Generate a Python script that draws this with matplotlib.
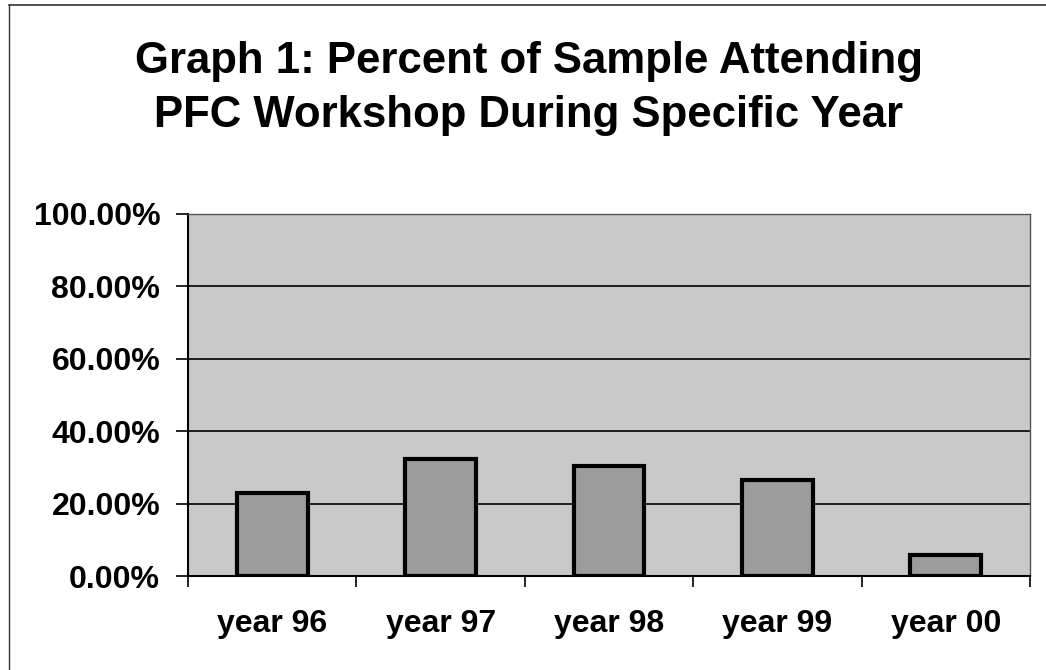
import matplotlib
matplotlib.use("Agg")
import matplotlib.pyplot as plt
from matplotlib.lines import Line2D
from matplotlib.ticker import FuncFormatter, MultipleLocator

years = ["year 96", "year 97", "year 98", "year 99", "year 00"]
percent_attending = [0.23, 0.324, 0.304, 0.266, 0.058]

title_lines = ["Graph 1: Percent of Sample Attending", "PFC Workshop During Specific Year"]

plt.rcParams["font.family"] = ["Liberation Sans", "DejaVu Sans"]
plt.rcParams["font.weight"] = "bold"

W, H = 1046, 670
fig = plt.figure(figsize=(W / 100, H / 100), dpi=100)
ax = fig.add_axes([188 / W, 1 - 576 / H, (1030 - 188) / W, (576 - 214) / H])

# scanned frame: only the top and left edges are visible
fig.add_artist(Line2D([9 / W, 1.0], [1 - 5 / H, 1 - 5 / H], transform=fig.transFigure,
                      color="#333333", linewidth=1.2))
fig.add_artist(Line2D([9 / W, 9 / W], [0.0, 1 - 5 / H], transform=fig.transFigure,
                      color="#333333", linewidth=1.0))

x = list(range(len(years)))
ax.bar(x, percent_attending, width=0.42, color="#9c9c9c", edgecolor="black", linewidth=3, zorder=3)

ax.set_facecolor("#c9c9c9")
ax.set_xlim(-0.5, len(years) - 0.5)
ax.set_ylim(0, 1.0)
ax.yaxis.set_major_locator(MultipleLocator(0.2))
ax.yaxis.set_major_formatter(FuncFormatter(lambda v, _: f"{v * 100:.2f}%"))
ax.grid(axis="y", color="black", linewidth=1.2, zorder=1)

ax.set_xticks([i - 0.5 for i in range(len(years) + 1)], minor=False)
ax.set_xticklabels([])
ax.set_xticks(x, minor=True)
ax.set_xticklabels(years, minor=True)
ax.tick_params(axis="x", which="major", length=8, width=1.2, direction="out")
ax.tick_params(axis="x", which="minor", length=0, pad=24, labelsize=23)
ax.tick_params(axis="y", length=9, width=1.2, direction="out", labelsize=23, pad=11)

for side in ["left", "bottom"]:
    ax.spines[side].set_linewidth(1.5)
for side in ["top", "right"]:
    ax.spines[side].set_linewidth(1.0)
    ax.spines[side].set_color("#555555")

fig.text(529 / W, 1 - 73 / H, title_lines[0], ha="center", va="baseline",
         fontsize=31.5, fontweight="bold")
fig.text(528 / W, 1 - 127 / H, title_lines[1], ha="center", va="baseline",
         fontsize=31.5, fontweight="bold")

fig.savefig("out.png", dpi=100)
